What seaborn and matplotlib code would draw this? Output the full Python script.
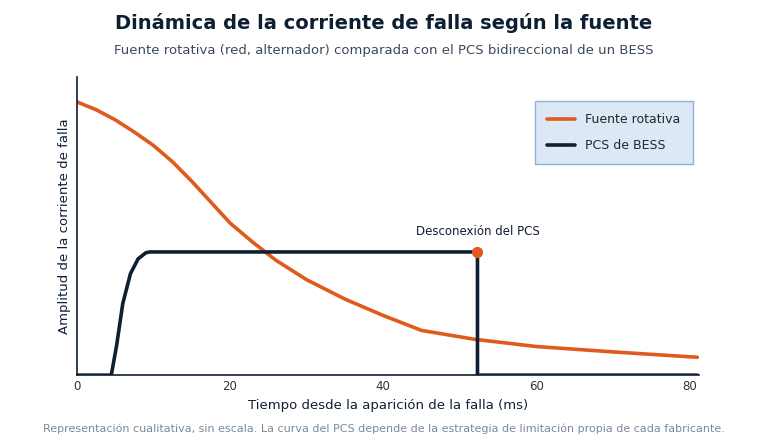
import matplotlib
matplotlib.use("Agg")
import matplotlib.pyplot as plt
import seaborn as sns
import pandas as pd
import numpy as np

rot_t = [0, 2.5, 5, 7.5, 10, 12.5, 15, 17.5, 20, 23, 26, 30, 35, 40, 45, 52, 60, 70, 81]
rot_a = [0.916, 0.89, 0.856, 0.815, 0.77, 0.715, 0.65, 0.58, 0.51, 0.445, 0.385, 0.32, 0.255, 0.2, 0.15, 0.12, 0.096, 0.078, 0.06]
pcs_t = [0, 4.5, 5.2, 6, 7, 8, 9, 9.5, 52.3, 52.3, 81]
pcs_a = [0, 0, 0.1, 0.24, 0.34, 0.39, 0.41, 0.413, 0.413, 0, 0]

sns.set_theme(style="white")
plt.rcParams['font.family'] = ['DejaVu Sans']
fig = plt.figure(figsize=(7.68, 4.44), dpi=100)
ax = fig.add_axes([0.1, 0.155, 0.81, 0.672])

df_r = pd.DataFrame({"t": rot_t, "a": rot_a})
df_p = pd.DataFrame({"t": pcs_t, "a": pcs_a})
sns.lineplot(data=df_r, x="t", y="a", ax=ax, color="#e05a1b", lw=2.6, label="Fuente rotativa",
             sort=False, estimator=None, errorbar=None)
sns.lineplot(data=df_p, x="t", y="a", ax=ax, color="#0f1f33", lw=2.6, label="PCS de BESS",
             sort=False, estimator=None, errorbar=None)
ax.plot([52.3], [0.413], "o", color="#e05a1b", ms=7, zorder=5)
ax.text(52.3, 0.46, "Desconexión del PCS", ha="center", va="bottom", fontsize=8.5, color="#0f1f33")

ax.set_xlim(0, 81.2)
ax.set_ylim(0, 1)
ax.set_xticks([0, 20, 40, 60, 80])
ax.set_yticks([])
ax.tick_params(axis="x", labelsize=8.5, colors="#333", length=0)
for s in ["top", "right"]:
    ax.spines[s].set_visible(False)
for s in ["left", "bottom"]:
    ax.spines[s].set_color("#0f1f33")
    ax.spines[s].set_linewidth(1.2)
ax.set_xlabel("Tiempo desde la aparición de la falla (ms)", fontsize=9.5, color="#0f1f33")
ax.set_ylabel("Amplitud de la corriente de falla", fontsize=9.5, color="#0f1f33")
leg = ax.legend(loc="upper right", bbox_to_anchor=(1.0, 0.94), fontsize=9, frameon=True, fancybox=False,
                borderpad=1.0, labelspacing=1.0, handlelength=2.2)
leg.get_frame().set_facecolor("#dce8f6")
leg.get_frame().set_edgecolor("#8fb0d8")
leg.get_frame().set_alpha(1)
fig.canvas.draw()
bb = leg.get_frame()
# widen legend box to match reference
leg._legend_box.set_width = None

fig.text(0.5, 0.935, "Dinámica de la corriente de falla según la fuente", ha="center", fontsize=14, weight="bold", color="#0f1f33")
fig.text(0.5, 0.878, "Fuente rotativa (red, alternador) comparada con el PCS bidireccional de un BESS", ha="center", fontsize=9.5, color="#3a4a5c")
fig.text(0.5, 0.027, "Representación cualitativa, sin escala. La curva del PCS depende de la estrategia de limitación propia de cada fabricante.", ha="center", fontsize=8, color="#7a8a99")
fig.savefig("out.png", dpi=100)
